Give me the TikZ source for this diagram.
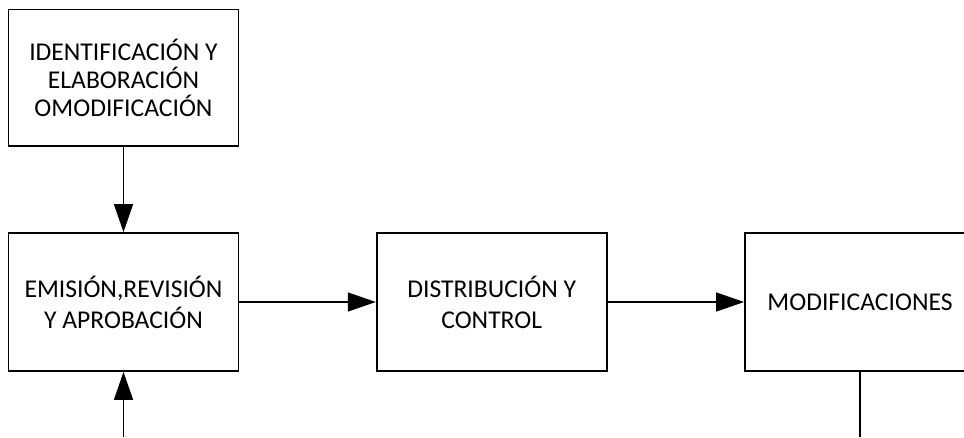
\documentclass[tikz,border=0pt]{standalone}
\usepackage{fontspec}
\setmainfont{Carlito}
\usetikzlibrary{arrows.meta, positioning}

\begin{document}
\begin{tikzpicture}[x=1pt, y=-1pt,
		caja/.style={draw, line width=1.8pt, minimum width=230pt, minimum height=138pt, align=center, inner sep=0pt, font=\fontsize{25.6}{31}\selectfont},
		flecha/.style={-{Triangle[length=28pt,width=19pt]}, line width=1.5pt}]
			\useasboundingbox (0,0) rectangle (964,437);
			
			% Cajas del proceso
			\node[caja, minimum height=136.5pt, font=\fontsize{25.6}{28}\selectfont] (ident) at (123.5,77.75) {IDENTIFICACIÓN Y\\ELABORACIÓN\\OMODIFICACIÓN};
			\node[caja] (emision) at (123.5,302) {EMISIÓN,REVISIÓN\\Y APROBACIÓN};
			\node[caja] (distrib) at (491.7,302) {DISTRIBUCIÓN Y\\CONTROL};
			\node[caja] (modif) at (860,302) {MODIFICACIONES};
			
			% Extremos libres abajo
			\coordinate (entrada) at (123.5,437);
			\coordinate (salida) at (860,437);
			
			% Flechas
			\draw[flecha] (ident) -- (emision);
			\draw[flecha] (entrada) -- (emision);
			\draw[flecha] (emision) -- (distrib);
			\draw[flecha] (distrib) -- (modif);
			\draw[line width=1.5pt] (modif) -- (salida);
		\end{tikzpicture}
\end{document}
